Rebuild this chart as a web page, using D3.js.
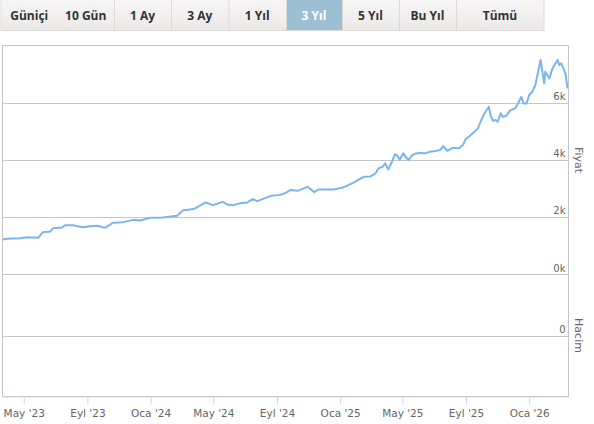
<!DOCTYPE html>
<html>
<head>
<meta charset="utf-8">
<script src="https://cdn.jsdelivr.net/npm/d3@7"></script>
<style>
  body { margin: 0; background: #fff; }
  svg { display: block; }
  .btn text { font-family: "Open Sans", sans-serif; font-weight: 700; font-size: 12px; }
  .lbl { font-family: "DejaVu Sans", sans-serif; font-size: 10px; fill: #666; }
  .ttl { font-family: "DejaVu Sans", sans-serif; font-size: 11px; fill: #666; }
</style>
</head>
<body>
<svg width="594" height="424"></svg>
<script>
// range buttons
var buttons = ["Güniçi", "10 Gün", "1 Ay", "3 Ay", "1 Yıl", "3 Yıl", "5 Yıl", "Bu Yıl", "Tümü"];
var activeButton = "3 Yıl";

// price series (date, value)
var dates = [
  "2023-03-21","2023-03-30","2023-04-24","2023-05-08","2023-05-29","2023-06-07","2023-06-21","2023-06-27",
  "2023-07-14","2023-07-20","2023-08-04","2023-08-23","2023-09-06","2023-09-21","2023-10-05","2023-10-20",
  "2023-11-09","2023-11-28","2023-12-12","2023-12-31","2024-01-25","2024-02-21","2024-03-04","2024-03-17",
  "2024-03-27","2024-04-16","2024-05-01","2024-05-19","2024-05-28","2024-06-09","2024-06-22","2024-07-06",
  "2024-07-16","2024-07-25","2024-08-04","2024-08-20","2024-09-04","2024-09-14","2024-09-27","2024-10-11",
  "2024-10-30","2024-11-12","2024-11-20","2024-12-03","2024-12-19","2025-01-07","2025-01-26","2025-02-15",
  "2025-02-28","2025-03-10","2025-03-16","2025-03-24","2025-03-29","2025-04-04","2025-04-11","2025-04-17",
  "2025-04-22","2025-04-26","2025-05-03","2025-05-07","2025-05-13","2025-05-20","2025-05-28","2025-06-05",
  "2025-06-14","2025-06-24","2025-07-04","2025-07-13","2025-07-19","2025-07-27","2025-08-06","2025-08-18",
  "2025-08-26","2025-08-31","2025-09-08","2025-09-24","2025-09-29","2025-10-05","2025-10-15","2025-10-19",
  "2025-10-23","2025-10-28","2025-11-01","2025-11-07","2025-11-11","2025-11-17","2025-11-26","2025-12-05",
  "2025-12-11","2025-12-17","2025-12-21","2025-12-27","2026-01-01","2026-01-07","2026-01-13","2026-01-19",
  "2026-01-23","2026-01-27","2026-01-30","2026-02-01","2026-02-05","2026-02-09","2026-02-15","2026-02-19",
  "2026-02-25","2026-02-28","2026-03-04","2026-03-08","2026-03-12","2026-03-16"
];
var prices = [
  1224,1245,1269,1304,1280,1479,1503,1619,
  1643,1724,1724,1654,1689,1700,1630,1804,
  1829,1909,1888,1979,1993,2049,2248,2273,
  2308,2517,2423,2538,2447,2423,2493,2517,
  2633,2563,2633,2748,2773,2818,2948,2923,
  3063,2878,2972,2972,2972,3042,3203,3413,
  3420,3531,3706,3764,3881,3671,3940,4206,
  4136,4020,4231,4113,3997,4171,4231,4252,
  4231,4287,4311,4346,4486,4322,4427,4406,
  4521,4720,4836,5105,5336,5570,5860,5535,
  5370,5395,5336,5628,5511,5535,5744,5804,
  6000,6210,5977,5977,6269,6385,6619,7143,
  7493,7027,6678,7085,6968,6853,7201,7318,
  7493,7318,7376,7201,7027,6503
];

// axis ticks
var xTickDates = ["2023-05-01","2023-09-01","2024-01-01","2024-05-01","2024-09-01","2025-01-01","2025-05-01","2025-09-01","2026-01-01"];
var xTickLabels = ["May '23","Eyl '23","Oca '24","May '24","Eyl '24","Oca '25","May '25","Eyl '25","Oca '26"];
var priceTicks = [0, 2000, 4000, 6000];
var priceTickLabels = ["0k", "2k", "4k", "6k"];
var volumeTicks = [0];
var volumeTickLabels = ["0"];

var svg = d3.select("svg");
var parse = d3.timeParse("%Y-%m-%d");
var data = dates.map(function (d, i) { return [parse(d), prices[i]]; });

var pLeft = 2.5, pRight = 568.5, pTop = 45.5, pMid = 274.5, pBottom = 396.5;

// ---- buttons
var defs = svg.append("defs");
var grad = defs.append("linearGradient").attr("id", "btnGrad")
  .attr("x1", 0).attr("y1", 0).attr("x2", 0).attr("y2", 1);
grad.append("stop").attr("offset", "0%").attr("stop-color", "#f7f6f6");
grad.append("stop").attr("offset", "100%").attr("stop-color", "#ebe8e8");

var btnX = [1, 57.5, 114, 171, 228.5, 286, 342, 399, 456, 544];
var gb = svg.append("g").attr("class", "btn");
gb.append("rect").attr("x", 1).attr("y", -1).attr("width", 543).attr("height", 31.5)
  .attr("fill", "url(#btnGrad)").attr("stroke", "#dddada");
buttons.forEach(function (b, i) {
  var x0 = btnX[i], x1 = btnX[i + 1];
  if (b === activeButton) {
    gb.append("rect").attr("x", x0).attr("y", 0).attr("width", x1 - x0).attr("height", 30)
      .attr("fill", "#9dbfd4");
  }
  if (i > 1) {
    gb.append("line").attr("x1", x0 + 0.5).attr("x2", x0 + 0.5).attr("y1", 0).attr("y2", 30)
      .attr("stroke", "#dddada");
  }
  gb.append("text").attr("x", (x0 + x1) / 2).attr("y", 19.5)
    .attr("text-anchor", "middle")
    .attr("fill", b === activeButton ? "#fff" : "#333")
    .text(b);
});

// ---- scales
var x = d3.scaleTime()
  .domain(d3.extent(data, function (d) { return d[0]; }))
  .range([pLeft, pRight - 1]);
var y = d3.scaleLinear().domain([0, 8000]).range([pMid, pTop]);
var yv = d3.scaleLinear().domain([-1, 1]).range([pBottom, pMid]);

// frame
svg.append("rect").attr("x", pLeft).attr("y", pTop).attr("width", pRight - pLeft).attr("height", pBottom - pTop)
  .attr("fill", "none").attr("stroke", "#c6c6c6");

// grid lines
svg.selectAll(".grid").data(priceTicks.filter(function (t) { return t > 0; })).enter()
  .append("line").attr("class", "grid")
  .attr("x1", pLeft).attr("x2", pRight)
  .attr("y1", function (d) { return Math.round(y(d)) + 0.5; })
  .attr("y2", function (d) { return Math.round(y(d)) + 0.5; })
  .attr("stroke", "#c6c6c6");
svg.append("line").attr("x1", pLeft).attr("x2", pRight).attr("y1", pMid).attr("y2", pMid).attr("stroke", "#c6c6c6");
svg.selectAll(".vgrid").data(volumeTicks).enter()
  .append("line").attr("class", "vgrid")
  .attr("x1", pLeft).attr("x2", pRight)
  .attr("y1", function (d) { return Math.round(yv(d)) + 0.5; })
  .attr("y2", function (d) { return Math.round(yv(d)) + 0.5; })
  .attr("stroke", "#c6c6c6");

// y labels
svg.selectAll(".plbl").data(priceTicks).enter()
  .append("text").attr("class", "lbl")
  .attr("x", pRight - 3).attr("y", function (d) { return y(d) - 3; })
  .attr("text-anchor", "end")
  .text(function (d, i) { return priceTickLabels[i]; });
svg.selectAll(".vlbl").data(volumeTicks).enter()
  .append("text").attr("class", "lbl")
  .attr("x", pRight - 3).attr("y", function (d) { return yv(d) - 3; })
  .attr("text-anchor", "end")
  .text(function (d, i) { return volumeTickLabels[i]; });

// axis titles
svg.append("text").attr("class", "ttl")
  .attr("transform", "translate(575," + (pTop + pMid) / 2 + ") rotate(90)")
  .attr("text-anchor", "middle").text("Fiyat");
svg.append("text").attr("class", "ttl")
  .attr("transform", "translate(575," + (pMid + pBottom) / 2 + ") rotate(90)")
  .attr("text-anchor", "middle").text("Hacim");

// x axis
var xAxis = d3.axisBottom(x)
  .tickValues(xTickDates.map(parse))
  .tickFormat(function (d, i) { return xTickLabels[i]; })
  .tickSize(8).tickSizeOuter(0);
var gx = svg.append("g").attr("transform", "translate(0," + pBottom + ")").call(xAxis);
gx.select(".domain").attr("stroke", "#ccd6eb");
gx.selectAll(".tick line").attr("stroke", "#ccd6eb");
gx.selectAll(".tick text").attr("class", "lbl").attr("dy", "0").attr("y", 20)
  .style("font-size", "10.5px");

// price line
defs.append("clipPath").attr("id", "clip").append("rect")
  .attr("x", pLeft).attr("y", pTop).attr("width", pRight - pLeft).attr("height", pMid - pTop);
svg.append("path").datum(data)
  .attr("clip-path", "url(#clip)")
  .attr("fill", "none")
  .attr("stroke", "#7cb5ec")
  .attr("stroke-width", 2)
  .attr("stroke-linejoin", "round")
  .attr("d", d3.line().x(function (d) { return x(d[0]); }).y(function (d) { return y(d[1]); }));
</script>
</body>
</html>
